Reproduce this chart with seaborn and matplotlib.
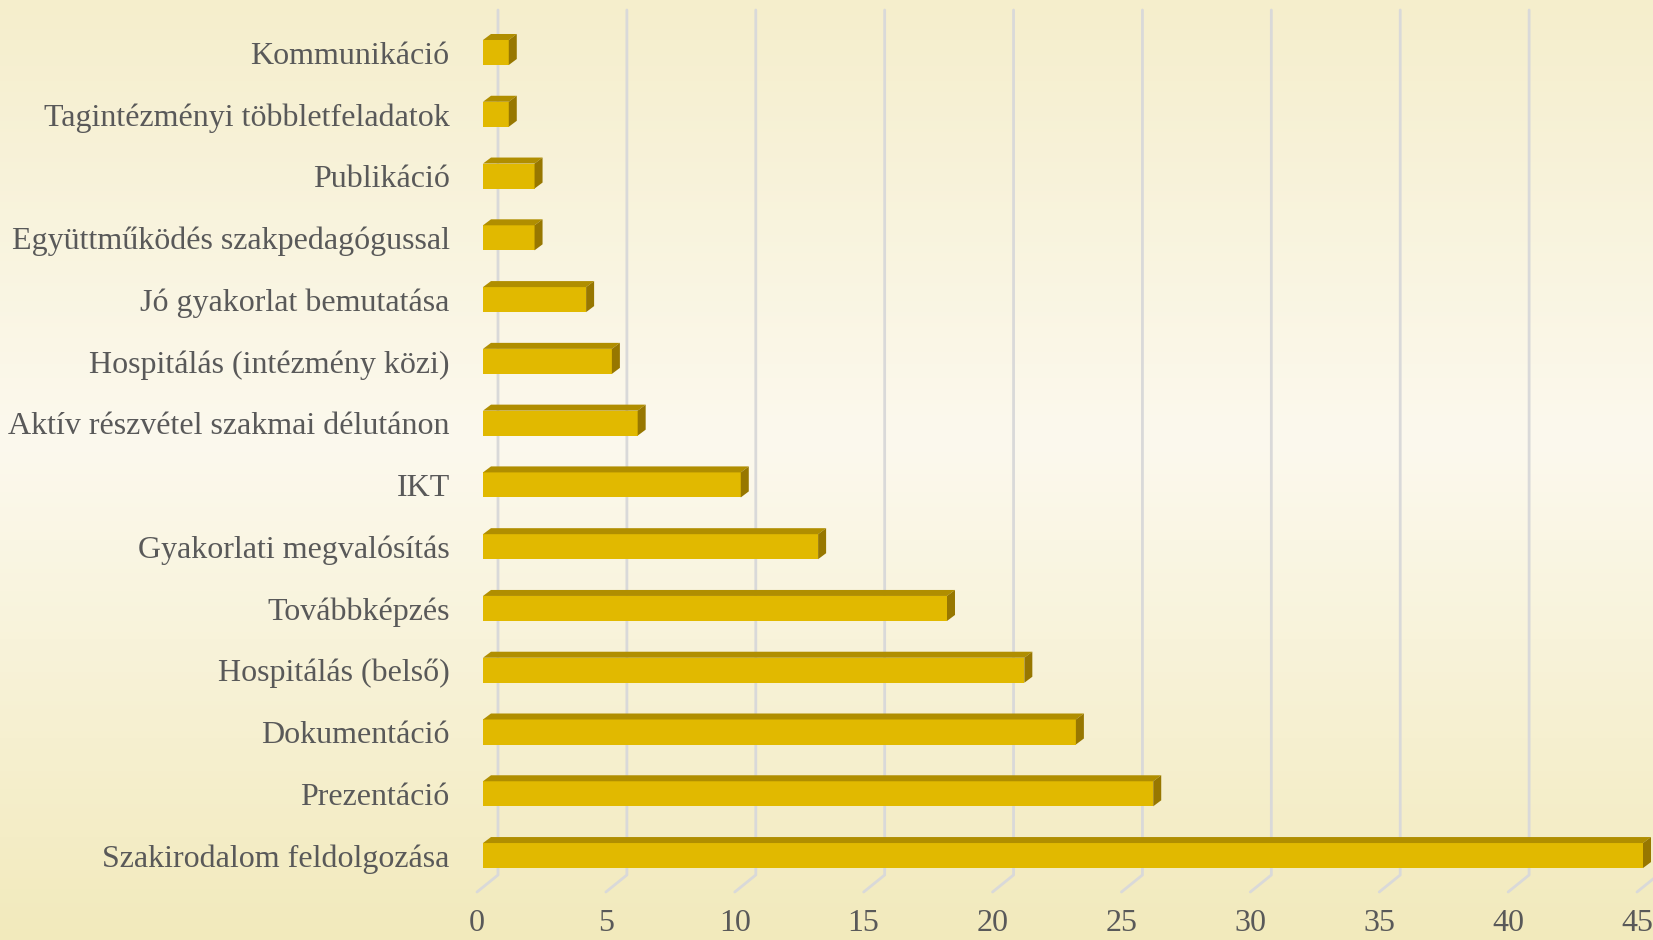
import numpy as np
import pandas as pd
import matplotlib
matplotlib.use("Agg")
import matplotlib.pyplot as plt
import seaborn as sns
from matplotlib.colors import LinearSegmentedColormap
from matplotlib.lines import Line2D
from matplotlib.patches import Polygon
from matplotlib.transforms import ScaledTranslation

categories = [
    "Kommunikáció",
    "Tagintézményi többletfeladatok",
    "Publikáció",
    "Együttműködés szakpedagógussal",
    "Jó gyakorlat bemutatása",
    "Hospitálás (intézmény közi)",
    "Aktív részvétel szakmai délutánon",
    "IKT",
    "Gyakorlati megvalósítás",
    "Továbbképzés",
    "Hospitálás (belső)",
    "Dokumentáció",
    "Prezentáció",
    "Szakirodalom feldolgozása",
]
values = [1, 1, 2, 2, 4, 5, 6, 10, 13, 18, 21, 23, 26, 45]
x_ticks = [0, 5, 10, 15, 20, 25, 30, 35, 40, 45]

front_col = "#E1B900"
top_col = "#B08E00"
side_col = "#977700"
grid_col = "#D9D9D9"
text_col = "#595959"

sns.set_theme(style="white")
plt.rcParams["font.family"] = ["Liberation Serif", "DejaVu Serif"]

W, H = 1653, 940
fig = plt.figure(figsize=(W / 100, H / 100), dpi=100)

# background gradient
bg = fig.add_axes([0, 0, 1, 1], zorder=0)
cmap = LinearSegmentedColormap.from_list(
    "bg", [(0.0, "#F5EECC"), (0.47, "#FCF9EE"), (1.0, "#F2EABC")])
grad = np.linspace(0, 1, 256).reshape(-1, 1)
bg.imshow(grad, aspect="auto", cmap=cmap, extent=[0, 1, 0, 1], origin="upper")
bg.set_axis_off()

left_px, right_px = 483, 1643
top_px, bottom_px = 10, 892
ax = fig.add_axes([left_px / W, (H - bottom_px) / H,
                   (right_px - left_px) / W, (bottom_px - top_px) / H], zorder=1)
ax.set_facecolor("none")

df = pd.DataFrame({"cat": categories, "val": values})
sns.barplot(data=df, x="val", y="cat", orient="h", color=front_col,
            width=0.405, saturation=1, ax=ax, zorder=2,
            edgecolor=front_col, linewidth=0)

ax.set_xlim(0, 45)
ax.set_ylim(13.59, -0.688)
for s in ax.spines.values():
    s.set_visible(False)
ax.set_xlabel("")
ax.set_ylabel("")
ax.set_xticks(x_ticks)
ax.set_xticklabels([str(t) for t in x_ticks])
ax.tick_params(axis="x", length=0, pad=12, labelsize=23, labelcolor=text_col)
ax.tick_params(axis="y", length=0, pad=24, labelsize=23, labelcolor=text_col)
ax.grid(False)
for lab in ax.get_xticklabels():
    lab.set_transform(lab.get_transform() + ScaledTranslation(-6 / 100, 0, fig.dpi_scale_trans))

to_fig = fig.transFigure.inverted()

def disp2fig(pts):
    return to_fig.transform(np.asarray(pts, dtype=float))

# 3D-ish gridlines: back wall lines + floor diagonals
back_dx = 15
floor_rise = 17
front_dx = -6
y_top_disp = ax.transAxes.transform((0, 1))[1]
y_bot_disp = ax.transAxes.transform((0, 0))[1]
for t in x_ticks:
    xd = ax.transData.transform((t, 0))[0]
    pts = [(xd + back_dx, y_top_disp),
           (xd + back_dx, y_bot_disp + floor_rise),
           (xd + front_dx, y_bot_disp)]
    fp = disp2fig(pts)
    ln = Line2D(fp[:, 0], fp[:, 1], color=grid_col, lw=2.0,
                transform=fig.transFigure, zorder=0.5, clip_on=False)
    ax.add_line(ln)

# 3D faces for bars
dx, dy = 8, 6
for p in list(ax.patches):
    x0, y0 = p.get_x(), p.get_y()
    w, h = p.get_width(), p.get_height()
    (ax0, ay0) = ax.transData.transform((x0, y0 + h))  # bottom-left on screen
    (ax1, ay1) = ax.transData.transform((x0 + w, y0))  # top-right on screen
    top = [(ax0, ay1), (ax1, ay1), (ax1 + dx, ay1 + dy), (ax0 + dx, ay1 + dy)]
    side = [(ax1, ay0), (ax1, ay1), (ax1 + dx, ay1 + dy), (ax1 + dx, ay0 + dy)]
    ax.add_patch(Polygon(disp2fig(top), closed=True, facecolor=top_col,
                         edgecolor="none", transform=fig.transFigure,
                         zorder=2.1, clip_on=False))
    ax.add_patch(Polygon(disp2fig(side), closed=True, facecolor=side_col,
                         edgecolor="none", transform=fig.transFigure,
                         zorder=2.1, clip_on=False))

fig.savefig("out.png", dpi=100)
